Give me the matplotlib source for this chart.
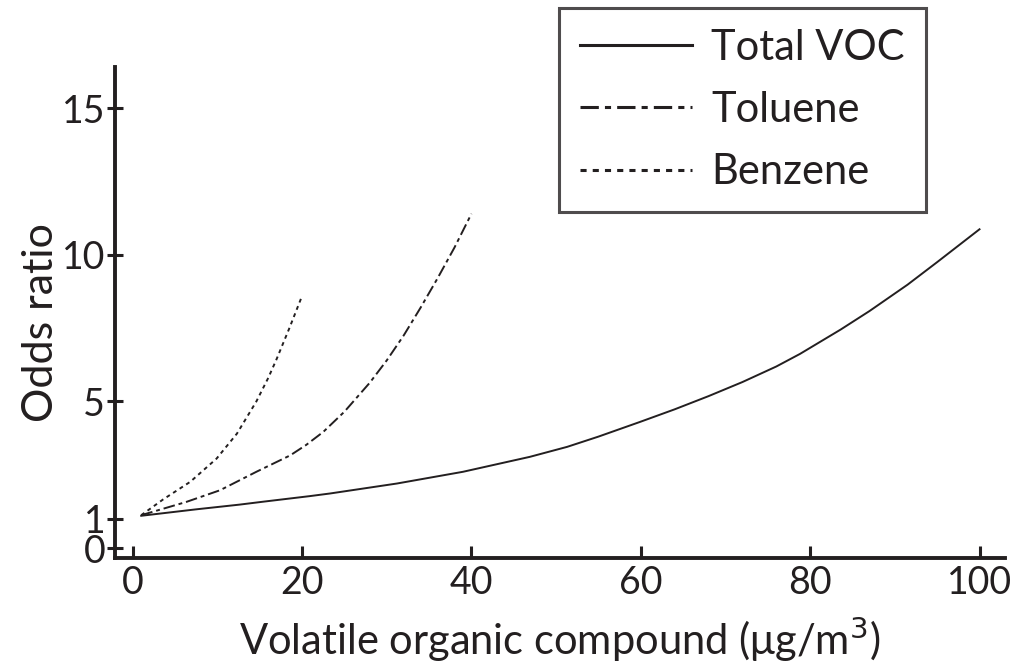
import matplotlib
matplotlib.use("Agg")
import matplotlib.pyplot as plt

plt.rcParams['font.family'] = ['Lato', 'DejaVu Sans']

# Data
total_x = [1, 7.5, 12.6, 15.4, 20.9, 23.3, 31.2, 39.0, 46.9, 51.3, 55.0, 59.9,
           64.0, 68.0, 72.0, 76.0, 78.8, 83.6, 87.0, 91.5, 95.0, 100]
total_y = [1.1, 1.32, 1.48, 1.58, 1.77, 1.86, 2.20, 2.60, 3.11, 3.45, 3.8, 4.30,
           4.73, 5.18, 5.66, 6.19, 6.62, 7.45, 8.08, 8.98, 9.75, 10.87]

tol_x = [1, 6.3, 10.3, 14.6, 18.6, 20.5, 22.5, 25.0, 28.0, 30.0, 32.0, 34.0,
         36.0, 38.0, 40]
tol_y = [1.12, 1.57, 1.97, 2.60, 3.16, 3.52, 3.96, 4.65, 5.64, 6.4, 7.25, 8.2,
         9.2, 10.25, 11.4]

benz_x = [1, 3.6, 6.8, 9.9, 12.3, 14.6, 16.0, 17.0, 18.5, 20]
benz_y = [1.12, 1.66, 2.26, 3.05, 3.90, 5.0, 5.8, 6.45, 7.5, 8.6]

labels = ["Total VOC", "Toluene", "Benzene"]
xticks = [0, 20, 40, 60, 80, 100]
yticks = [0, 1, 5, 10, 15]

ink = '#231f20'
fig = plt.figure(figsize=(10.12, 6.71), dpi=100)
ax = fig.add_axes([0.1136, 0.1684, 0.8794, 0.7316])

ax.plot(total_x, total_y, color=ink, lw=1.4, ls='-', label=labels[0])
ax.plot(tol_x, tol_y, color=ink, lw=1.4, ls=(0, (6, 2, 2, 2)), label=labels[1])
ax.plot(benz_x, benz_y, color=ink, lw=1.4, ls=(0, (2, 2)), label=labels[2])

ax.set_xlim(-2.1, 103)
ax.set_ylim(-0.34, 16.4)
ax.set_xticks(xticks)
ax.set_yticks(yticks)

for s in ['top', 'right']:
    ax.spines[s].set_visible(False)
for s in ['left', 'bottom']:
    ax.spines[s].set_linewidth(2.8)
    ax.spines[s].set_color(ink)

ax.tick_params(axis='x', direction='in', length=8.6, width=2.2, colors=ink,
               labelsize=27, pad=5)
ax.tick_params(axis='y', direction='inout', length=12, width=2.2, colors=ink,
               labelsize=27, pad=1)

ax.set_xlabel("Volatile organic compound (\u03bcg/m$^3$)", fontsize=30, color=ink)
ax.xaxis.set_label_coords(0.5, -0.115)
ax.set_ylabel("Odds ratio", fontsize=31, color=ink)
ax.yaxis.set_label_coords(-0.062, 0.48)

leg = fig.legend(loc='upper left', bbox_to_anchor=(559/1012, 1 - 8/671),
                 borderaxespad=0, fontsize=30, frameon=True, fancybox=False,
                 handlelength=2.7, borderpad=0.5, labelspacing=0.58,
                 handletextpad=0.45)
leg.get_frame().set_edgecolor(ink)
leg.get_frame().set_linewidth(2.2)
for line in leg.get_lines():
    line.set_linewidth(2.2)
for t in leg.get_texts():
    t.set_color(ink)

fig.savefig("out.png", dpi=100)
